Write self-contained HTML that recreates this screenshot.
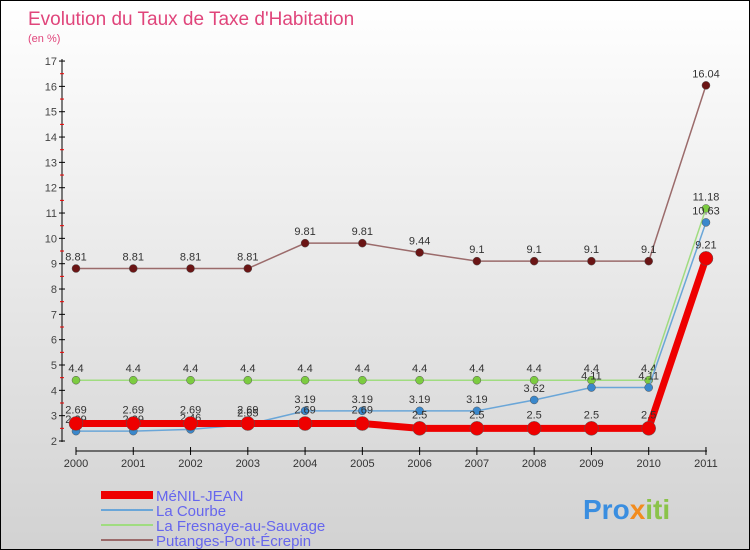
<!DOCTYPE html>
<html><head><meta charset="utf-8"><style>
body{margin:0}
#c{width:748px;height:548px;border:1px solid #000;background:linear-gradient(#fff,#d2d2d2);position:relative;font-family:"Liberation Sans",sans-serif;overflow:hidden}
text{font-family:"Liberation Sans",sans-serif}
</style></head><body>
<div id="c">
<svg id="s" width="748" height="548">
<text x="27" y="24" font-size="19" fill="#e0457b">Evolution du Taux de Taxe d'Habitation</text>
<text x="27" y="41" font-size="11" fill="#e0457b">(en %)</text>
<g id="axes"></g><g id="series"></g><g id="legend"></g>
<text x="582" y="518" font-size="28" font-weight="bold" fill="#3a8ee0">Pro<tspan fill="#f28c1e">x</tspan><tspan fill="#8bc34a">iti</tspan></text>
</svg></div>
<script>
const years=[2000,2001,2002,2003,2004,2005,2006,2007,2008,2009,2010,2011];
const menil=[2.69,2.69,2.69,2.69,2.69,2.69,2.5,2.5,2.5,2.5,2.5,9.21];
const courbe=[2.39,2.39,2.46,2.65,3.19,3.19,3.19,3.19,3.62,4.11,4.11,10.63];
const fresnaye=[4.4,4.4,4.4,4.4,4.4,4.4,4.4,4.4,4.4,4.4,4.4,11.18];
const putanges=[8.81,8.81,8.81,8.81,9.81,9.81,9.44,9.1,9.1,9.1,9.1,16.04];
const yTicks=[2,3,4,5,6,7,8,9,10,11,12,13,14,15,16,17];
const NS="http://www.w3.org/2000/svg";
const X=i=>75+i*57.27, Y=v=>440-(v-2)*25.33;
function mk(p,t,a){const e=document.createElementNS(NS,t);for(const k in a)e.setAttribute(k,a[k]);p.appendChild(e);return e;}
const ax=document.getElementById('axes');
let e=mk(ax,'line',{x1:61,y1:58,x2:61,y2:441,stroke:'#000','stroke-width':1});

e=mk(ax,'line',{x1:75,y1:450,x2:706,y2:450,stroke:'#000','stroke-width':1});

yTicks.forEach(v=>{
 mk(ax,'line',{x1:58,y1:Y(v),x2:64,y2:Y(v),stroke:'#000'});
 if(v<17)mk(ax,'line',{x1:59,y1:Y(v+0.5),x2:63,y2:Y(v+0.5),stroke:'#e00'});
 const t=mk(ax,'text',{x:56,y:Y(v)+4,'font-size':11,'text-anchor':'end',fill:'#444'});t.textContent=v;
 
});
years.forEach((y,i)=>{
 mk(ax,'line',{x1:X(i),y1:446,x2:X(i),y2:454,stroke:'#000'});
 const t=mk(ax,'text',{x:X(i),y:466,'font-size':11,'text-anchor':'middle',fill:'#333'});t.textContent=y;
 
});
const sg=document.getElementById('series');
function draw(name,vals,col,dot,w,r,dy){
 const g=mk(sg,'g',{});
 
 mk(g,'polyline',{points:vals.map((v,i)=>X(i)+','+Y(v)).join(' '),fill:'none',stroke:col,'stroke-width':w});
 vals.forEach((v,i)=>{
  const c=mk(g,'circle',{cx:X(i),cy:Y(v),r:r,fill:dot,stroke:'#555','stroke-width':0.5});
  
  const t=mk(g,'text',{x:X(i),y:Y(v)-dy,'font-size':11,'text-anchor':'middle',fill:'#333'});t.textContent=v;
 });
}
draw('series-putanges',putanges,'#9b6b6b','#6b1515',1.5,4,8);
draw('series-fresnaye',fresnaye,'#a0dc80','#7ccc40',1.5,4,8);
draw('series-courbe',courbe,'#6aa6d8','#3a88cc',1.5,4,8);
draw('series-menil',menil,'#ee0000','#ee0000',7,7,10);
const lg=document.getElementById('legend');
const items=[['MéNIL-JEAN','#ee0000',8],['La Courbe','#6aa6d8',2],['La Fresnaye-au-Sauvage','#a0dc80',2],['Putanges-Pont-Écrepin','#9b6b6b',2]];
items.forEach((it,i)=>{
 const y=494+i*15;
 const g=mk(lg,'g',{});
 mk(g,'line',{x1:100,y1:y,x2:152,y2:y,stroke:it[1],'stroke-width':it[2]});
 const t=mk(g,'text',{x:155,y:y+6,'font-size':15,fill:'#6666ee'});t.textContent=it[0];
});
</script>
</body></html>
